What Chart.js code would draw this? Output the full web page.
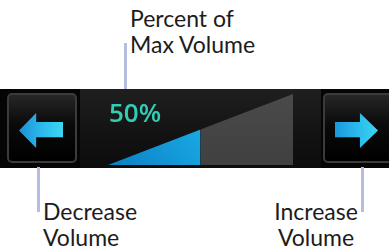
<!DOCTYPE html>
<html>
<head>
<meta charset="utf-8">
<script src="https://cdn.jsdelivr.net/npm/chart.js@4"></script>
<style>
  html, body { margin:0; padding:0; background:#fff; }
  #stage { position:relative; width:389px; height:250px; overflow:hidden; font-family:Lato, "Open Sans", sans-serif; }
  .lbl { position:absolute; font-size:23px; line-height:26px; color:#1c1c1c; white-space:nowrap; }
  .lead { position:absolute; width:3px; background:#b5bde0; }
  #bar { position:absolute; left:0; top:89px; width:389px; height:79px; background:#050505; }
  #panel { position:absolute; left:80px; top:89px; width:241px; height:79px;
           background:linear-gradient(#1f1f1f,#121212 60%,#0c0c0c); }
  .btn { position:absolute; top:93px; width:66px; height:66px; border:2px solid #3b3b3b; border-radius:5px;
         background:linear-gradient(#262626,#0a0a0a 45%,#000); }
  .arrow { position:absolute; top:113px; height:35px; }
  #pct { position:absolute; left:109px; top:99px; font-family:"Open Sans", sans-serif; font-size:26px; line-height:26px; font-weight:600; color:#33cdb4; }
  #chartBox { position:absolute; left:108px; top:94px; width:185px; height:71px; }
</style>
</head>
<body>
<div id="stage">
  <div class="lbl" style="left:130px; top:5px;">Percent of</div>
  <div class="lbl" style="left:130px; top:31px;">Max Volume</div>
  <div class="lead" style="left:124px; top:43px; height:48px;"></div>

  <div id="bar"></div>
  <div id="panel"></div>
  <div class="btn" style="left:7px;"></div>
  <div class="btn" style="left:323px;"></div>
  <div class="arrow" style="left:19px; width:44px; background:linear-gradient(90deg,#1b8fd6,#2bb8ec 50%,#3cd6f2);
       clip-path:polygon(0 50%, 39% 0, 39% 26%, 100% 26%, 100% 69%, 39% 69%, 39% 100%);"></div>
  <div class="arrow" style="left:335px; width:43px; background:linear-gradient(90deg,#1a98dc,#2cbcec 55%,#3ad4f2);
       clip-path:polygon(0 26%, 58% 26%, 58% 0, 100% 50%, 58% 100%, 58% 69%, 0 69%);"></div>

  <div id="chartBox"><canvas id="c" width="185" height="71"></canvas></div>
  <div id="pct">50%</div>

  <div class="lead" style="left:37px; top:167px; height:45px;"></div>
  <div class="lead" style="left:361px; top:167px; height:45px;"></div>
  <div class="lbl" style="left:43px; top:198px;">Decrease</div>
  <div class="lbl" style="left:43px; top:224px;">Volume</div>
  <div class="lbl" style="left:266px; top:198px; width:100px; text-align:center;">Increase</div>
  <div class="lbl" style="left:266px; top:224px; width:100px; text-align:center;">Volume</div>
</div>
<script>
// Volume level (percent of max)
const volumeX = [0, 50];
const volumeY = [0, 50];
// Remaining range up to max volume
const maxX = [50, 50, 100, 100];
const maxY = [0, 50, 100, 0];

const toPts = (xs, ys) => xs.map((x, i) => ({ x: x, y: ys[i] }));

const blueFill = (ctx) => {
  const ch = ctx.chart, a = ch.chartArea;
  if (!a) return '#1aa3e0';
  const g = ch.ctx.createLinearGradient(a.left, a.bottom, a.left + a.width * 0.5, a.top);
  g.addColorStop(0, '#0b7fc4');
  g.addColorStop(1, '#1cb2ea');
  return g;
};
const grayFill = (ctx) => {
  const ch = ctx.chart, a = ch.chartArea;
  if (!a) return '#464646';
  const g = ch.ctx.createLinearGradient(0, a.top, 0, a.bottom);
  g.addColorStop(0, '#4a4a4a');
  g.addColorStop(1, '#404040');
  return g;
};

new Chart(document.getElementById('c'), {
  type: 'line',
  data: {
    datasets: [
      { data: toPts(volumeX, volumeY), fill: 'origin', backgroundColor: blueFill, borderWidth: 0, pointRadius: 0, tension: 0 },
      { data: toPts(maxX, maxY), fill: 'origin', backgroundColor: grayFill, borderWidth: 0, pointRadius: 0, tension: 0 }
    ]
  },
  options: {
    responsive: false,
    animation: false,
    layout: { padding: 0 },
    plugins: { legend: { display: false }, tooltip: { enabled: false } },
    scales: {
      x: { type: 'linear', min: 0, max: 100, display: false },
      y: { type: 'linear', min: 0, max: 100, display: false }
    }
  }
});
</script>
</body>
</html>
